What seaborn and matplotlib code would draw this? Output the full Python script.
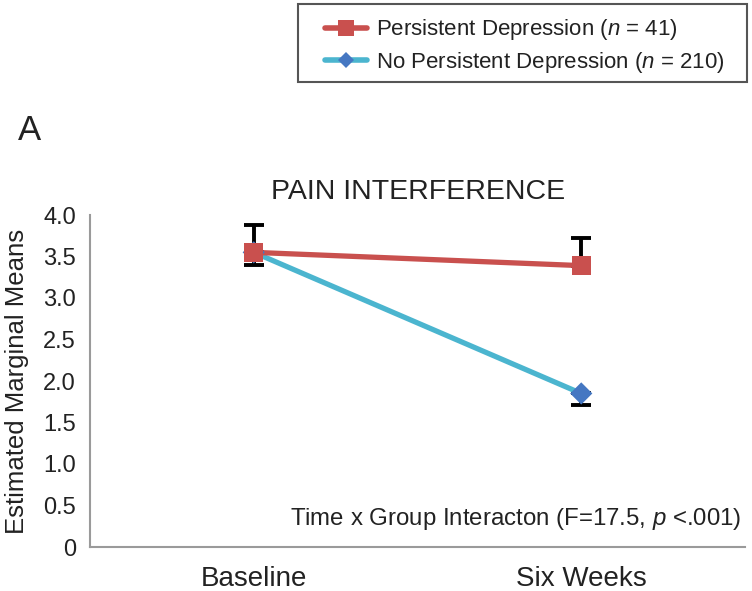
"""Pain interference: estimated marginal means by group over time."""

import matplotlib.pyplot as plt
import pandas as pd
import seaborn as sns
from matplotlib.lines import Line2D
from matplotlib.patches import Rectangle

TIMES = ["Baseline", "Six Weeks"]
GROUPS = ["Persistent Depression", "No Persistent Depression"]
GROUP_N = [41, 210]
PERSIST_MEANS = [3.55, 3.39]
NO_PERSIST_MEANS = [3.55, 1.85]
PERSIST_ERR_UP = [0.33, 0.33]
NO_PERSIST_ERR_DOWN = [0.15, 0.14]
Y_TICKS = [0, 0.5, 1.0, 1.5, 2.0, 2.5, 3.0, 3.5, 4.0]
Y_TICK_LABELS = ["0", "0.5", "1.0", "1.5", "2.0", "2.5", "3.0", "3.5", "4.0"]

LINE_COLORS = {"Persistent Depression": "#C9504E",
               "No Persistent Depression": "#4BB5CF"}
MARKER_COLORS = {"Persistent Depression": "#C9504E",
                 "No Persistent Depression": "#4577C2"}
MARKER_SIZES = {"Persistent Depression": 190,
                "No Persistent Depression": 128}

sns.set_theme(style="white")
plt.rcParams["font.family"] = ["Liberation Sans", "DejaVu Sans"]
plt.rcParams["mathtext.fontset"] = "custom"
plt.rcParams["mathtext.rm"] = "Liberation Sans"
plt.rcParams["mathtext.it"] = "Liberation Sans:italic"

# no-persistent rows first so the red series is drawn on top
data = pd.DataFrame({
    "Time": TIMES * 2,
    "Group": [GROUPS[1]] * 2 + [GROUPS[0]] * 2,
    "Mean": NO_PERSIST_MEANS + PERSIST_MEANS,
})

fig = plt.figure(figsize=(7.52, 5.91), dpi=100)
ax = fig.add_axes([90 / 752, 44 / 591, 655 / 752, 332 / 591])

sns.lineplot(data=data, x="Time", y="Mean", hue="Group",
             hue_order=GROUPS[::-1], palette=LINE_COLORS,
             linewidth=3.8, sort=False, legend=False, ax=ax, zorder=2)

# error bars (one-sided, as in the original)
ax.errorbar(TIMES, PERSIST_MEANS, yerr=[[0, 0], PERSIST_ERR_UP],
            fmt="none", ecolor="black", elinewidth=2.8, capsize=7,
            capthick=2.8, zorder=1.5)
ax.errorbar(TIMES, NO_PERSIST_MEANS, yerr=[NO_PERSIST_ERR_DOWN, [0, 0]],
            fmt="none", ecolor="black", elinewidth=2.8, capsize=7,
            capthick=2.8, zorder=1.5)

sns.scatterplot(data=data, x="Time", y="Mean", hue="Group", style="Group",
                size="Group", sizes=MARKER_SIZES,
                hue_order=GROUPS[::-1], style_order=GROUPS,
                palette=MARKER_COLORS, markers=["s", "D"],
                linewidth=0, legend=False, ax=ax, zorder=3)

ax.set_xlim(-0.5, 1.5)
ax.set_ylim(0, 4.0)
ax.set_yticks(Y_TICKS)
ax.set_yticklabels(Y_TICK_LABELS)
ax.tick_params(axis="y", labelsize=17, pad=10, length=0, colors="#222222")
ax.tick_params(axis="x", labelsize=20, pad=14, length=0, colors="#222222")
ax.set_xlabel("")
ax.set_ylabel("Estimated Marginal Means", fontsize=18.5, labelpad=10,
              color="#222222")
sns.despine(ax=ax)
for side in ["left", "bottom"]:
    ax.spines[side].set_color("#9a9a9a")
    ax.spines[side].set_linewidth(1.5)

fig.text(418 / 752, 1 - 192 / 591, "PAIN INTERFERENCE", fontsize=20.5,
         ha="center", va="center", color="#222222")
fig.text(18 / 752, 1 - 131 / 591, "A", fontsize=25, ha="left",
         va="center", color="#222222")
ax.text(0.995, 0.085, "Time x Group Interacton (F=17.5, $p$ <.001)",
        transform=ax.transAxes, fontsize=17.3, ha="right", va="center",
        color="#222222")

# legend box drawn separately so its padding matches the original
fig.patches.append(Rectangle((298 / 752, 1 - 82 / 591), 449 / 752, 78 / 591,
                             transform=fig.transFigure, fill=False,
                             edgecolor="#555555", linewidth=1.5))
handles = [
    Line2D([], [], color=LINE_COLORS[g], linewidth=4,
           marker=m, markersize=ms, markerfacecolor=MARKER_COLORS[g],
           markeredgewidth=0)
    for g, m, ms in zip(GROUPS, ["s", "D"], [12, 8])
]
labels = [f"{g} ($n$ = {n})" for g, n in zip(GROUPS, GROUP_N)]
leg = fig.legend(handles, labels, loc="center left",
                 bbox_to_anchor=(325 / 752, 1 - 46 / 591), fontsize=16,
                 frameon=False, handlelength=1.9, handletextpad=0.4,
                 borderpad=0, labelspacing=0.33, borderaxespad=0)
for t in leg.get_texts():
    t.set_color("#222222")

fig.savefig("out.png", dpi=100)
